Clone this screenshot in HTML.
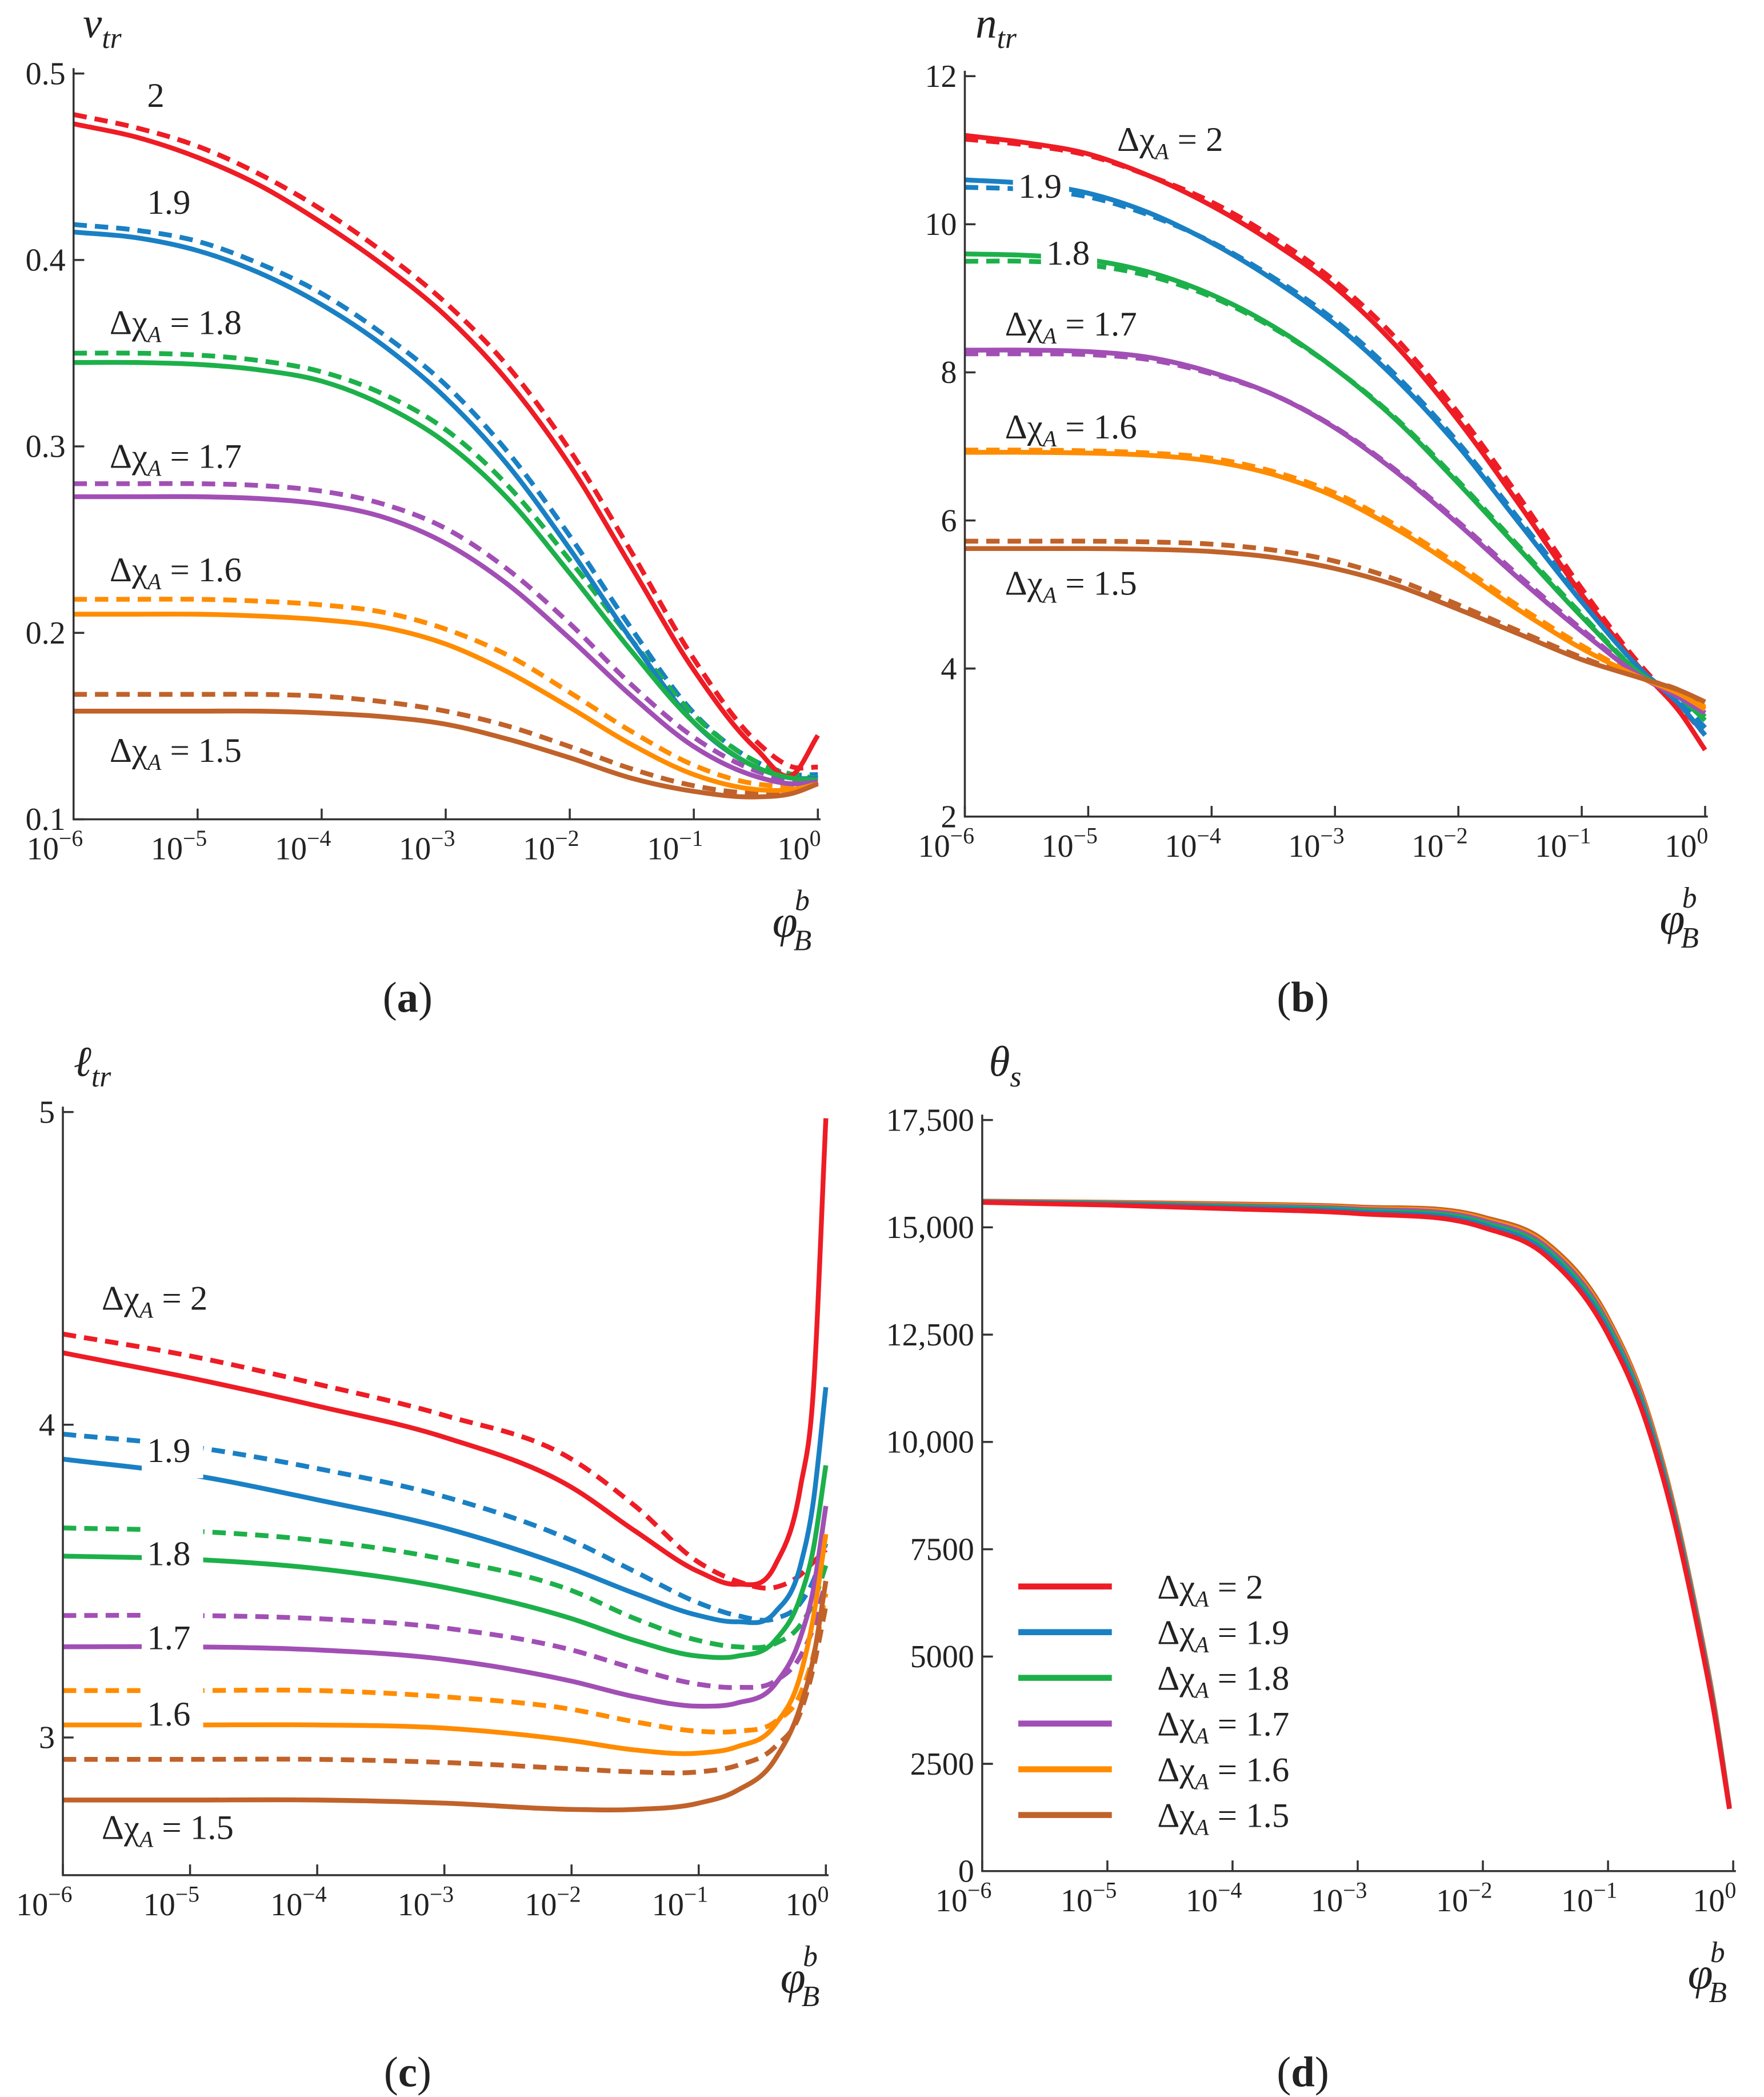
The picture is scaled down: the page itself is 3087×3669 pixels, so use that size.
<!DOCTYPE html>
<html><head><meta charset="utf-8">
<style>
html,body{margin:0;padding:0;background:#fff;}
svg{display:block;}
text{font-family:"Liberation Serif","DejaVu Serif",serif;fill:#222;}
</style></head>
<body>
<svg id="fig" width="3087" height="3669" viewBox="0 0 1320 1569" xmlns="http://www.w3.org/2000/svg" font-family="Liberation Serif, DejaVu Serif, serif"></svg>
<script>
const colors=['#ee1c25','#1a80c4','#1db04a','#a24fb5','#ff8c00','#c0622a'];
const chiLabels=['2','1.9','1.8','1.7','1.6','1.5'];
// Panel a data (log10 phi grid)
const xa=[-6,-5.5,-5,-4.5,-4,-3.5,-3,-2.5,-2,-1.5,-1,-0.5,-0.2,0];
const aSolid=[
[0.473,0.466,0.455,0.44,0.42,0.397,0.37,0.335,0.29,0.235,0.18,0.138,0.124,0.145],
[0.415,0.412,0.405,0.393,0.376,0.354,0.326,0.29,0.245,0.196,0.152,0.128,0.122,0.122],
[0.345,0.345,0.344,0.341,0.335,0.322,0.302,0.272,0.232,0.19,0.152,0.128,0.122,0.121],
[0.273,0.273,0.273,0.272,0.269,0.262,0.248,0.226,0.197,0.166,0.139,0.123,0.119,0.12],
[0.21,0.21,0.21,0.209,0.207,0.203,0.194,0.179,0.16,0.14,0.124,0.116,0.116,0.119],
[0.158,0.158,0.158,0.158,0.157,0.155,0.151,0.143,0.133,0.122,0.115,0.112,0.114,0.119]];
const aDash=[
[0.478,0.471,0.461,0.446,0.427,0.404,0.377,0.343,0.298,0.243,0.186,0.142,0.128,0.128],
[0.419,0.416,0.41,0.398,0.382,0.36,0.333,0.297,0.252,0.202,0.157,0.131,0.124,0.124],
[0.35,0.35,0.349,0.346,0.34,0.328,0.309,0.279,0.239,0.196,0.156,0.131,0.124,0.122],
[0.28,0.28,0.28,0.279,0.276,0.269,0.256,0.234,0.205,0.172,0.144,0.126,0.121,0.121],
[0.218,0.218,0.218,0.217,0.215,0.211,0.202,0.188,0.168,0.147,0.129,0.119,0.118,0.12],
[0.167,0.167,0.167,0.167,0.166,0.163,0.158,0.15,0.139,0.127,0.118,0.114,0.115,0.12]];
// Panel b
const xb=[-6,-5.5,-5,-4.5,-4,-3.5,-3,-2.5,-2,-1.5,-1,-0.5,-0.2,0];
const bSolid=[
[11.2,11.1,10.95,10.65,10.25,9.75,9.15,8.35,7.35,6.2,5.0,3.95,3.4,2.9],
[10.6,10.55,10.42,10.15,9.75,9.25,8.65,7.9,7.0,5.95,4.9,3.95,3.5,3.1],
[9.6,9.58,9.52,9.35,9.05,8.62,8.05,7.35,6.5,5.6,4.7,3.9,3.6,3.3],
[8.3,8.3,8.28,8.2,8.0,7.7,7.25,6.65,5.95,5.2,4.5,3.87,3.6,3.4],
[6.92,6.92,6.91,6.88,6.8,6.62,6.32,5.88,5.35,4.78,4.27,3.86,3.65,3.45],
[5.62,5.62,5.62,5.61,5.58,5.5,5.35,5.12,4.8,4.46,4.12,3.86,3.7,3.55]];
const bDash=[
[11.15,11.07,10.93,10.65,10.3,9.82,9.23,8.45,7.45,6.3,5.08,4.0,3.48,3.1],
[10.5,10.47,10.37,10.12,9.76,9.28,8.7,7.95,7.05,6.0,4.95,3.95,3.55,3.2],
[9.5,9.5,9.45,9.3,9.02,8.6,8.05,7.37,6.53,5.63,4.73,3.9,3.6,3.35],
[8.25,8.25,8.24,8.17,7.98,7.7,7.26,6.67,5.98,5.24,4.53,3.88,3.62,3.45],
[6.95,6.95,6.94,6.91,6.84,6.66,6.37,5.93,5.4,4.83,4.31,3.87,3.66,3.48],
[5.72,5.72,5.72,5.71,5.68,5.6,5.45,5.2,4.86,4.5,4.15,3.86,3.7,3.5]];
// Panel c
const xc=[-6,-5,-4,-3,-2,-1.5,-1,-0.7,-0.4,-0.2,-0.1,0];
const cSolid=[
[4.23,4.15,4.06,3.96,3.8,3.66,3.53,3.49,3.55,3.8,4.1,4.98],
[3.89,3.84,3.76,3.67,3.54,3.46,3.39,3.37,3.4,3.55,3.75,4.12],
[3.58,3.57,3.54,3.48,3.38,3.31,3.26,3.26,3.31,3.45,3.6,3.87],
[3.29,3.29,3.28,3.25,3.18,3.13,3.1,3.11,3.17,3.32,3.47,3.74],
[3.04,3.04,3.04,3.03,2.99,2.96,2.95,2.97,3.04,3.2,3.38,3.65],
[2.8,2.8,2.8,2.79,2.77,2.77,2.79,2.83,2.93,3.1,3.25,3.5]];
const cDash=[
[4.29,4.22,4.13,4.03,3.89,3.74,3.56,3.5,3.48,3.52,3.56,3.6],
[3.97,3.93,3.86,3.77,3.63,3.53,3.43,3.39,3.38,3.43,3.5,3.62],
[3.67,3.66,3.63,3.57,3.47,3.38,3.31,3.29,3.3,3.36,3.43,3.55],
[3.39,3.39,3.38,3.35,3.28,3.22,3.17,3.16,3.18,3.26,3.35,3.5],
[3.15,3.15,3.15,3.13,3.09,3.05,3.02,3.02,3.05,3.14,3.26,3.46],
[2.93,2.93,2.93,2.92,2.9,2.89,2.89,2.91,2.97,3.08,3.22,3.42]];
// Panel d
const xd=[-6,-5,-4,-3,-2,-1.5,-1,-0.7,-0.5,-0.3,-0.15,-0.03];
const dVals=[
[15580,15520,15430,15320,15000,14350,12500,10500,8500,5900,3650,1450],
[15590,15540,15460,15360,15060,14430,12600,10600,8580,5960,3690,1460],
[15595,15555,15485,15395,15110,14500,12690,10680,8650,6020,3730,1470],
[15600,15565,15505,15425,15160,14560,12760,10750,8710,6070,3770,1480],
[15605,15575,15525,15450,15200,14610,12820,10810,8760,6110,3810,1490],
[15610,15585,15545,15475,15240,14660,12880,10860,8810,6150,3850,1500]];
const aYTicks=[0.1,0.2,0.3,0.4,0.5];
const bYTicks=[2,4,6,8,10,12];
const cYTicks=[3,4,5];
const dYTicks=[0,2500,5000,7500,10000,12500,15000,17500];
const dYLabels=['0','2500','5000','7500','10,000','12,500','15,000','17,500'];
const xTicks=[-6,-5,-4,-3,-2,-1,0];

const NS='http://www.w3.org/2000/svg';
const svg=document.getElementById('fig');
function mk(tag,attrs,parent){const e=document.createElementNS(NS,tag);for(const k in attrs)e.setAttribute(k,attrs[k]);(parent||svg).appendChild(e);return e;}
// cubic Hermite spline in x with uneven spacing
function smooth(p){
 const n=p.length,sec=[],t=[];
 for(let i=0;i<n-1;i++)sec.push((p[i+1][1]-p[i][1])/(p[i+1][0]-p[i][0]));
 for(let i=0;i<n;i++){
  if(i===0)t.push(sec[0]);else if(i===n-1)t.push(sec[n-2]);
  else{const h0=p[i][0]-p[i-1][0],h1=p[i+1][0]-p[i][0];t.push((sec[i-1]*h1+sec[i]*h0)/(h0+h1));}
 }
 let d='M'+p[0][0].toFixed(2)+','+p[0][1].toFixed(2);
 for(let i=0;i<n-1;i++){const h=(p[i+1][0]-p[i][0])/3;
  d+=' C'+(p[i][0]+h).toFixed(2)+','+(p[i][1]+t[i]*h).toFixed(2)+' '+(p[i+1][0]-h).toFixed(2)+','+(p[i+1][1]-t[i+1]*h).toFixed(2)+' '+p[i+1][0].toFixed(2)+','+p[i+1][1].toFixed(2);}
 return d;}

function panel(cfg){
 const g=mk('g',{});
 
 
 const X=v=>cfg.x0+(v+6)/6*(cfg.x1-cfg.x0);
 const Y=v=>cfg.yb-(v-cfg.ymin)/(cfg.ymax-cfg.ymin)*(cfg.yb-cfg.yt);
 const series=[];
 cfg.dashed&&cfg.dashed.forEach((s,i)=>series.push({v:s,i,dash:true}));
 cfg.solid.forEach((s,i)=>series.push({v:s,i,dash:false}));
 const order=cfg.reverse?series.slice().reverse():series;
 order.forEach(s=>{
  const p=mk('path',{d:smooth(cfg.xs.map((x,k)=>[X(x),Y(s.v[k])])),fill:'none',stroke:colors[s.i],'stroke-width':3.6,'stroke-dasharray':s.dash?'10,6':'none'},g);
  
  
 });
 const ax=mk('path',{d:`M${cfg.x0},${cfg.yt-4} V${cfg.yb} H${cfg.x1+2}`,fill:'none',stroke:'#333','stroke-width':1.5},g);
 
 
 xTicks.forEach(t=>{
  mk('line',{x1:X(t),x2:X(t),y1:cfg.yb,y2:cfg.yb-8,stroke:'#333','stroke-width':1.5},g);
  const tx=mk('text',{x:X(t)-14,y:cfg.yb+30,'font-size':24,'text-anchor':'middle'},g);
  
  
  tx.textContent='10';
  const sp=mk('tspan',{dy:-10,'font-size':17},tx);sp.textContent=t===0?'0':'\u2212'+(-t);
 });
 cfg.yt2.forEach((t,k)=>{
  mk('line',{x1:cfg.x0,x2:cfg.x0+8,y1:Y(t),y2:Y(t),stroke:'#333','stroke-width':1.5},g);
  const tx=mk('text',{x:cfg.x0-6,y:Y(t)+8,'font-size':24,'text-anchor':'end'},g);
  
  
  tx.textContent=cfg.yl?cfg.yl[k]:String(t);
 });
 const yt=mk('text',{x:cfg.ytx,y:cfg.yty,'font-size':32,'font-style':'italic'},g);
 
 
 yt.textContent=cfg.ytitle[0];
 const ys=mk('tspan',{dy:8,'font-size':22},yt);ys.textContent=cfg.ytitle[1];
 const xt=mk('text',{x:cfg.x1-34,y:cfg.yb+88,'font-size':34,'font-style':'italic'},g);
 
 
 xt.textContent='\u03c6';
 const s1=mk('tspan',{dx:-2,dy:-20,'font-size':22},xt);s1.textContent='b';
 const s2=mk('tspan',{dx:-12,dy:30,'font-size':22},xt);s2.textContent='B';
 const pl=mk('text',{x:cfg.plx,y:cfg.ply,'font-size':32,'text-anchor':'middle'},g);
 
 
 pl.textContent='(';const b=mk('tspan',{'font-weight':'bold'},pl);b.textContent=cfg.letter;
 const c=mk('tspan',{},pl);c.textContent=')';
 (cfg.labels||[]).forEach(L=>{
  if(L.bg) mk('rect',{x:L.x-4,y:L.y-(L.bt||24),width:L.bg,height:L.bh||30,fill:'#fff'},g);
  const t=mk('text',{x:L.x,y:L.y,'font-size':26},g);
  
  
  if(L.full){t.textContent='\u0394\u03c7';const s=mk('tspan',{dy:6,'font-size':17,'font-style':'italic'},t);s.textContent='A';
   const r=mk('tspan',{dy:-6},t);r.textContent=' = '+L.t;}
  else t.textContent=L.t;
 });
 return g;
}

panel({name:'panel-a-v-tr',letter:'a',x0:55,x1:612,yt:55,yb:613,ymin:0.1,ymax:0.5,xs:xa,solid:aSolid,dashed:aDash,
 yt2:aYTicks,yl:['0.1','0.2','0.3','0.4','0.5'],ytitle:['v','tr'],ytx:62,yty:28,plx:305,ply:757,
 labels:[{x:110,y:80,t:'2'},{x:110,y:160,t:'1.9'},{x:82,y:250,t:'1.8',full:1},{x:82,y:350,t:'1.7',full:1},{x:82,y:435,t:'1.6',full:1},{x:82,y:570,t:'1.5',full:1}]});
panel({name:'panel-b-n-tr',letter:'b',x0:722,x1:1276,yt:57,yb:611,ymin:2,ymax:12,xs:xb,solid:bSolid,dashed:bDash,
 yt2:bYTicks,ytitle:['n','tr'],ytx:730,yty:28,plx:975,ply:757,
 labels:[{x:836,y:113,t:'2',full:1},{x:762,y:148,t:'1.9',bg:42},{x:783,y:198,t:'1.8',bg:42},{x:752,y:251,t:'1.7',full:1},{x:752,y:328,t:'1.6',full:1},{x:752,y:445,t:'1.5',full:1}]});
panel({name:'panel-c-l-tr',letter:'c',x0:47,x1:618,yt:832,yb:1403,ymin:2.5598,ymax:5,xs:xc,solid:cSolid,dashed:cDash,
 yt2:cYTicks,ytitle:['\u2113','tr'],ytx:55,yty:805,plx:305,ply:1561,
 labels:[{x:76,y:980,t:'2',full:1},{x:110,y:1094,t:'1.9',bg:46,bt:34,bh:46},{x:110,y:1171,t:'1.8',bg:46,bt:36,bh:46},{x:110,y:1234,t:'1.7',bg:46,bt:36,bh:46},{x:110,y:1291,t:'1.6',bg:46,bt:36,bh:46},{x:76,y:1376,t:'1.5',full:1}]});
panel({name:'panel-d-theta-s',letter:'d',x0:735,x1:1297,yt:838,yb:1400,ymin:0,ymax:17500,xs:xd,solid:dVals,reverse:true,
 yt2:dYTicks,yl:dYLabels,ytitle:['\u03b8','s'],ytx:740,yty:805,plx:975,ply:1561,labels:[]});
const lg=mk('g',{});


chiLabels.forEach((c,i)=>{
 const y=1187+i*34.2;
 const e=mk('g',{},lg);
 
 
 mk('line',{x1:762,x2:832,y1:y,y2:y,stroke:colors[i],'stroke-width':4.5},e);
 const t=mk('text',{x:866,y:y+9,'font-size':26},e);
 t.textContent='\u0394\u03c7';const s=mk('tspan',{dy:6,'font-size':17,'font-style':'italic'},t);s.textContent='A';
 const r=mk('tspan',{dy:-6},t);r.textContent=' = '+c;
});
</script>
</body></html>
